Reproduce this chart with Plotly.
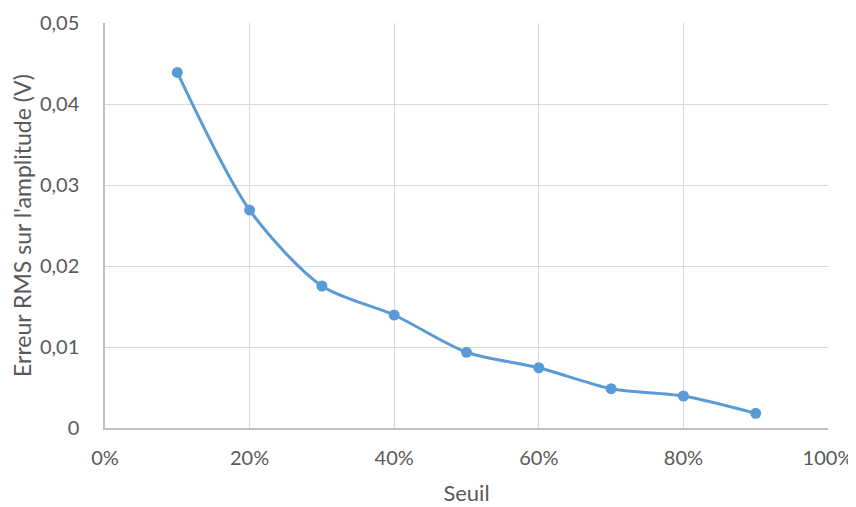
import plotly.graph_objects as go

seuil = [0.1, 0.2, 0.3, 0.4, 0.5, 0.6, 0.7, 0.8, 0.9]
erreur = [0.0439, 0.0269, 0.01753, 0.01395, 0.00935, 0.00744, 0.00485, 0.00395, 0.00181]

x_ticks = [0, 0.2, 0.4, 0.6, 0.8, 1.0]
y_ticks = [0, 0.01, 0.02, 0.03, 0.04, 0.05]

font_family = "Lato, Open Sans, sans-serif"
text_color = "#595959"
blue = "#5B9BD5"
grid = "#D9D9D9"

fig = go.Figure()
fig.add_trace(go.Scatter(
    x=seuil, y=erreur, mode="lines+markers",
    line=dict(color=blue, width=3, shape="spline", smoothing=0.8),
    marker=dict(color=blue, size=11),
    showlegend=False,
))

# page body adds an 8px offset, so the figure is sized/margined to compensate
fig.update_layout(
    width=848, height=499,
    margin=dict(l=97, r=28, t=15, b=79, autoexpand=False),
    paper_bgcolor="white", plot_bgcolor="white",
    separators=", ",
    font=dict(family=font_family, size=20, color=text_color),
    xaxis=dict(
        range=[0, 1], tickvals=x_ticks, tickformat=".0%",
        showgrid=True, gridcolor=grid, gridwidth=1,
        showline=True, linecolor="#BFBFBF", linewidth=1.5,
        zeroline=False, ticks="", ticklabelstandoff=11,
        automargin=False,
        title=dict(text="Seuil", font=dict(size=22, color=text_color), standoff=18),
        fixedrange=True,
    ),
    yaxis=dict(
        range=[0, 0.05], tickvals=y_ticks,
        showgrid=True, gridcolor=grid, gridwidth=1,
        showline=True, linecolor="#BFBFBF", linewidth=1.5,
        zeroline=False, ticks="", ticklabelstandoff=20,
        automargin=False,
        title=dict(text="Erreur RMS sur l'amplitude (V)", font=dict(size=23, color=text_color), standoff=10),
        fixedrange=True,
    ),
)

fig.write_html("out.html")
